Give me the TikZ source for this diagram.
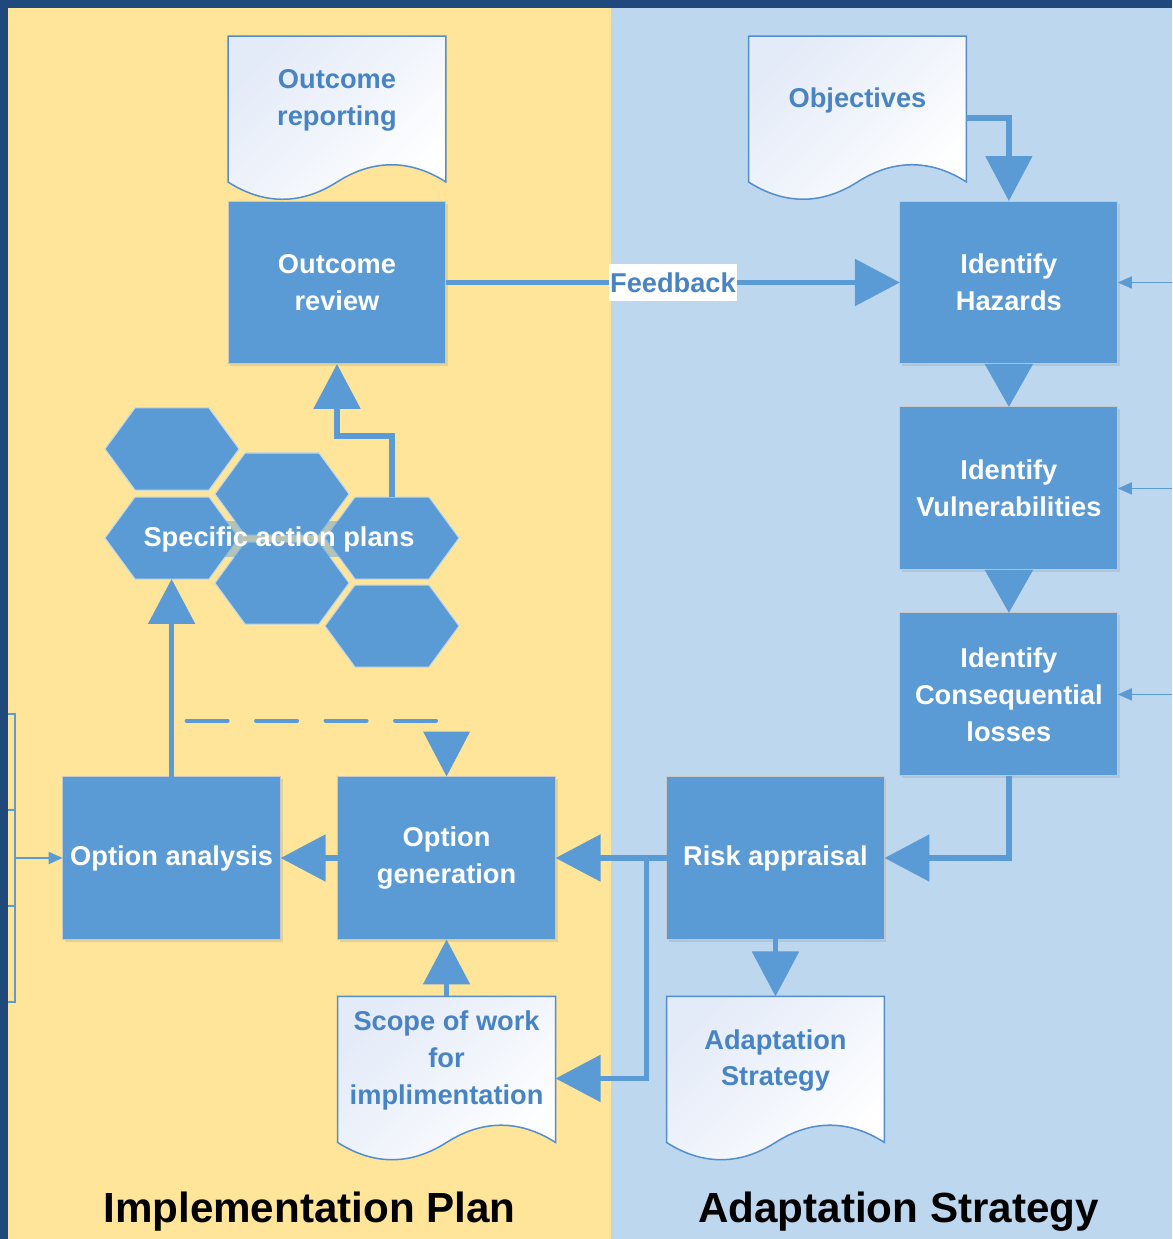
\documentclass[tikz,border=0pt]{standalone}
\usepackage{fontspec}
\setmainfont{Liberation Sans}
\usetikzlibrary{arrows.meta, positioning, calc, shadows, backgrounds}

\definecolor{framedark}{RGB}{31,73,125}
\definecolor{planyellow}{RGB}{255,229,153}
\definecolor{stratblue}{RGB}{189,215,238}
\definecolor{boxblue}{RGB}{91,155,213}
\definecolor{doctext}{RGB}{72,132,196}
\definecolor{docfill}{RGB}{228,235,248}
\definecolor{docedge}{RGB}{84,141,204}

% document outline with wavy bottom, hung on a named node
\newcommand\docshape[1]{%
  \draw[docline] (#1.north west) -- (#1.north east) -- ($(#1.south east)+(0,18)$)
    .. controls +(-36,-23) and +(36,-23) .. ($(#1.south)+(0,18)$)
    .. controls +(-36,23) and +(36,23) .. ($(#1.south west)+(0,18)$) -- cycle;}

\begin{document}
\begin{tikzpicture}[
  x=0.02cm, y=-0.02cm,
  font=\fontsize{15.5}{21}\selectfont\bfseries,
  box/.style={draw=black!22, line width=0.02cm, fill=boxblue, text=white, align=center,
    minimum width=4.36cm, minimum height=3.26cm, inner sep=0pt, outer sep=0pt,
    drop shadow={shadow xshift=0.04cm, shadow yshift=-0.05cm, opacity=0.2}},
  doc/.style={align=center, text=doctext, minimum width=4.36cm, minimum height=2.56cm, inner sep=0pt, outer sep=0pt},
  docline/.style={draw=docedge, line width=0.03cm, top color=docfill, bottom color=white,
    middle color=white!45!docfill, shading angle=45},
  hexa/.style={fill=boxblue, draw=white!60!boxblue, line width=0.02cm},
  flow/.style={draw=boxblue, line width=0.11cm, -{Triangle[length=0.9cm, width=0.92cm]}},
  chev/.style={draw=boxblue, line width=0.11cm, -{Triangle[length=0.86cm, width=0.94cm]}},
  dashflow/.style={flow, line width=0.08cm, line cap=round, dash pattern=on 0.82cm off 0.57cm, dash phase=1.09cm},
  thinline/.style={draw=boxblue, line width=0.035cm},
  thinflow/.style={thinline, -{Triangle[length=0.28cm, width=0.24cm]}},
  title/.style={font=\fontsize{24}{29}\selectfont\bfseries, text=black, anchor=base}
]
\useasboundingbox (0,0) rectangle (1172,1239);

% boxes
\node[box] (review) at (337,282.5) {Outcome\\review};
\node[box, right=9.08cm of review] (hazards) {Identify\\Hazards};
\node[box, below=0.86cm of hazards] (vuln) {Identify\\Vulnerabilities};
\node[box, below=0.86cm of vuln] (cons) {Identify\\Consequential\\losses};
\node[box] (risk) at (775.5,858) {Risk appraisal};
\node[box, left=2.22cm of risk] (gen) {Option\\generation};
\node[box, left=1.14cm of gen] (anal) {Option analysis};

% documents
\node[doc, above=0.74cm of review] (report) {Outcome\\reporting};
\node[doc] (objectives) at (857.5,100) {Objectives};
\node[doc, below=1.14cm of gen] (scope) {Scope of work\\for\\implimentation};
\node[doc, below=1.14cm of risk] (adapt) {Adaptation\\Strategy};

% action plan hexagons
\foreach \hx/\hy/\hn in {172/449/hexA, 282/494/hexB, 172/538/hexC, 282/583/hexD, 392/538/hexE, 392/626/hexF}{
  \draw[hexa] (\hx-67,\hy) -- (\hx-37,\hy-41) -- (\hx+37,\hy-41) -- (\hx+67,\hy)
    -- (\hx+37,\hy+41) -- (\hx-37,\hy+41) -- cycle;
  \coordinate (\hn) at (\hx,\hy);
}
\node[text=white, fill=boxblue, fill opacity=0.45, text opacity=1, inner xsep=2pt, inner ysep=3pt] (planstext) at (279,539) {Specific action plans};

% connectors
\draw[flow] (review) -- node[fill=white, text=doctext, inner xsep=0.03cm, minimum height=0.76cm] (fb) {Feedback} (hazards);
\draw[flow] ([yshift=-0.36cm]objectives.east) -| (hazards);
\draw[chev] (hazards) -- (vuln);
\draw[chev] (vuln) -- (cons);
\draw[flow] (cons) |- (risk);
\draw[flow] (risk) -- (gen);
\coordinate (split) at ($(risk.west)+(-20,0)$);
\draw[flow] (split) |- ([yshift=-0.36cm]scope.east);
\draw[flow] (risk) -- (adapt);
\draw[flow] (scope) -- (gen);
\draw[flow] (gen) -- (anal);
\draw[flow] (anal) -- (anal |- {$(hexC)+(0,41)$});
\draw[flow] ($(hexE)+(0,-41)$) -- ++(0,-61) -| (review);
\draw[dashflow] ($(anal.north)+(0,-56)$) -| (gen);

% edge feeds
\draw[thinline] (8,714) -| (15,1002) -- (8,1002) (8,810) -- (15,810) (8,906) -- (15,906);
\coordinate (bracket) at (15,858);
\draw[thinflow] (bracket) -- (anal);
\coordinate (redge) at (1172,0);
\foreach \n in {hazards, vuln, cons}
  \draw[thinflow] (\n.east -| redge) -- (\n.east);

% titles
\node[title] (plantitle) at (309.5,1222) {Implementation Plan};
\node[title] (strattitle) at (898.5,1222) {Adaptation Strategy};

\begin{scope}[on background layer]
  \fill[framedark] (0,0) rectangle (1172,1239);
  \fill[planyellow] (8,8) rectangle (611,1239);
  \fill[stratblue] (611,8) rectangle (1172,1239);
  \foreach \d in {report, objectives, scope, adapt}
    \docshape{\d};
\end{scope}
\end{tikzpicture}
\end{document}
